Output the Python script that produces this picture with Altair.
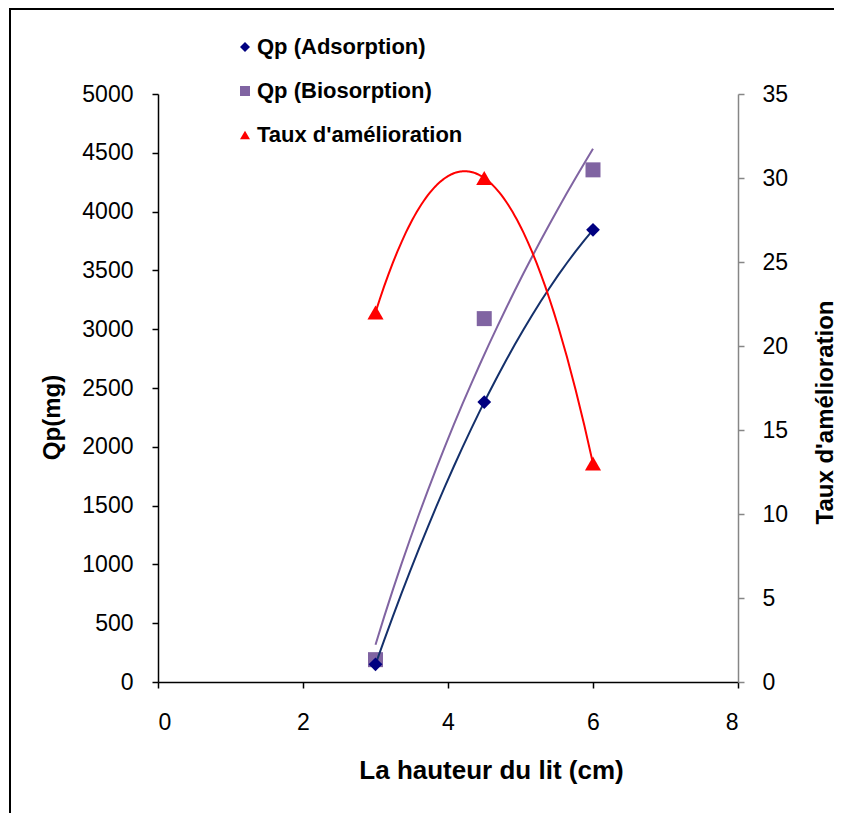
import altair as alt
import pandas as pd

# ---- data ----
heights = [3, 4.5, 6]
qp_adsorption = [150, 2380, 3845]
qp_biosorption = [190, 3090, 4355]
taux_amelioration = [22, 30, 13]

series_names = ["Qp (Adsorption)", "Qp (Biosorption)", "Taux d'amélioration"]
series_colors = ["#000080", "#8064A2", "#FF0000"]
series_shapes = ["diamond", "square", "triangle-up"]
x_ticks = [0, 2, 4, 6, 8]
left_ticks = list(range(0, 5001, 500))
right_ticks = list(range(0, 36, 5))

FONT = "Liberation Sans"

df_ads = pd.DataFrame({"x": heights, "y": qp_adsorption, "serie": series_names[0]})
df_bio = pd.DataFrame({"x": heights, "y": qp_biosorption, "serie": series_names[1]})
df_taux = pd.DataFrame({"x": heights, "y": taux_amelioration, "serie": series_names[2]})
df_frame = pd.DataFrame({"a": [0]})

x_enc = alt.X(
    "x:Q",
    scale=alt.Scale(domain=[0, 8], nice=False, zero=False),
    axis=alt.Axis(
        values=x_ticks, format="d", title="La hauteur du lit (cm)",
        titleX=333, titleY=88, titleBaseline="middle", titleAlign="center",
        titleFontSize=26, labelPadding=23,
    ),
)

y_left = alt.Y(
    "y:Q",
    scale=alt.Scale(domain=[0, 5000], nice=False),
    axis=alt.Axis(
        values=left_ticks, format="d", title="Qp(mg)", orient="left",
        titleX=-106, titleY=323, titleAngle=270, titleBaseline="middle",
        titleAlign="center", titleFontSize=24, labelPadding=19,
    ),
)

y_right = alt.Y(
    "y:Q",
    scale=alt.Scale(domain=[0, 35], nice=False),
    axis=alt.Axis(
        values=right_ticks, format="d", title="Taux d'amélioration", orient="right",
        titleX=87, titleY=318, titleAngle=270, titleBaseline="middle",
        titleAlign="center", titleFontSize=24, labelPadding=18,
        domainColor="#868686", tickColor="#868686",
    ),
)

legend_opts = dict(
    title=None, orient="none", legendX=76, legendY=-58, direction="vertical",
    rowPadding=22, labelFont=FONT, labelFontSize=22, labelFontWeight="bold",
    labelColor="black", symbolSize=100, labelOffset=1, padding=0,
    symbolStrokeWidth=0, labelLimit=0,
)

color_enc = alt.Color(
    "serie:N",
    scale=alt.Scale(domain=series_names, range=series_colors),
    legend=alt.Legend(**legend_opts),
)
shape_enc = alt.Shape(
    "serie:N",
    scale=alt.Scale(domain=series_names, range=series_shapes),
    legend=alt.Legend(**legend_opts),
)

# outer frame: only the left and top edges fall inside the picture
frame_left = alt.Chart(df_frame).mark_rule(
    stroke="black", strokeWidth=2, clip=False
).encode(x=alt.value(-148), y=alt.value(-86), y2=alt.value(719))
frame_top = alt.Chart(df_frame).mark_rule(
    stroke="black", strokeWidth=2, clip=False
).encode(x=alt.value(-149), x2=alt.value(676), y=alt.value(-85))

ads_line = alt.Chart(df_ads).transform_regression(
    "x", "y", method="poly", order=2
).mark_line(color="#14306B", strokeWidth=2).encode(x=x_enc, y=y_left)

bio_line = alt.Chart(df_bio).transform_regression(
    "x", "y", method="log"
).mark_line(color="#8064A2", strokeWidth=2).encode(x=x_enc, y=y_left)

bio_pts = alt.Chart(df_bio).mark_point(filled=True, opacity=1, size=225).encode(
    x=x_enc, y=y_left, color=color_enc, shape=shape_enc
)
ads_pts = alt.Chart(df_ads).mark_point(filled=True, opacity=1, size=190).encode(
    x=x_enc, y=y_left, color=color_enc, shape=shape_enc
)

left = alt.layer(frame_left, frame_top, bio_pts, bio_line, ads_line, ads_pts)

taux_line = alt.Chart(df_taux).transform_regression(
    "x", "y", method="poly", order=2
).mark_line(color="#FF0000", strokeWidth=2).encode(x=x_enc, y=y_right)

taux_pts = alt.Chart(df_taux).mark_point(filled=True, opacity=1, size=260).encode(
    x=x_enc, y=y_right, color=color_enc, shape=shape_enc
)

right = alt.layer(taux_line, taux_pts)

chart = alt.layer(left, right).resolve_scale(y="independent").properties(
    width=580,
    height=588,
    padding={"left": 150, "top": 86, "right": 98, "bottom": 131},
    autosize=alt.AutoSizeParams(type="none"),
    background="white",
).configure_view(stroke=None).configure_axis(
    grid=False,
    labelFont=FONT,
    titleFont=FONT,
    labelFontSize=23,
    labelColor="black",
    titleColor="black",
    titleFontWeight="bold",
    domainColor="black",
    tickColor="black",
    tickSize=6,
    domainWidth=1.5,
    tickWidth=1.5,
)

chart.save("out.html", embed_options={"renderer": "svg", "actions": False})
